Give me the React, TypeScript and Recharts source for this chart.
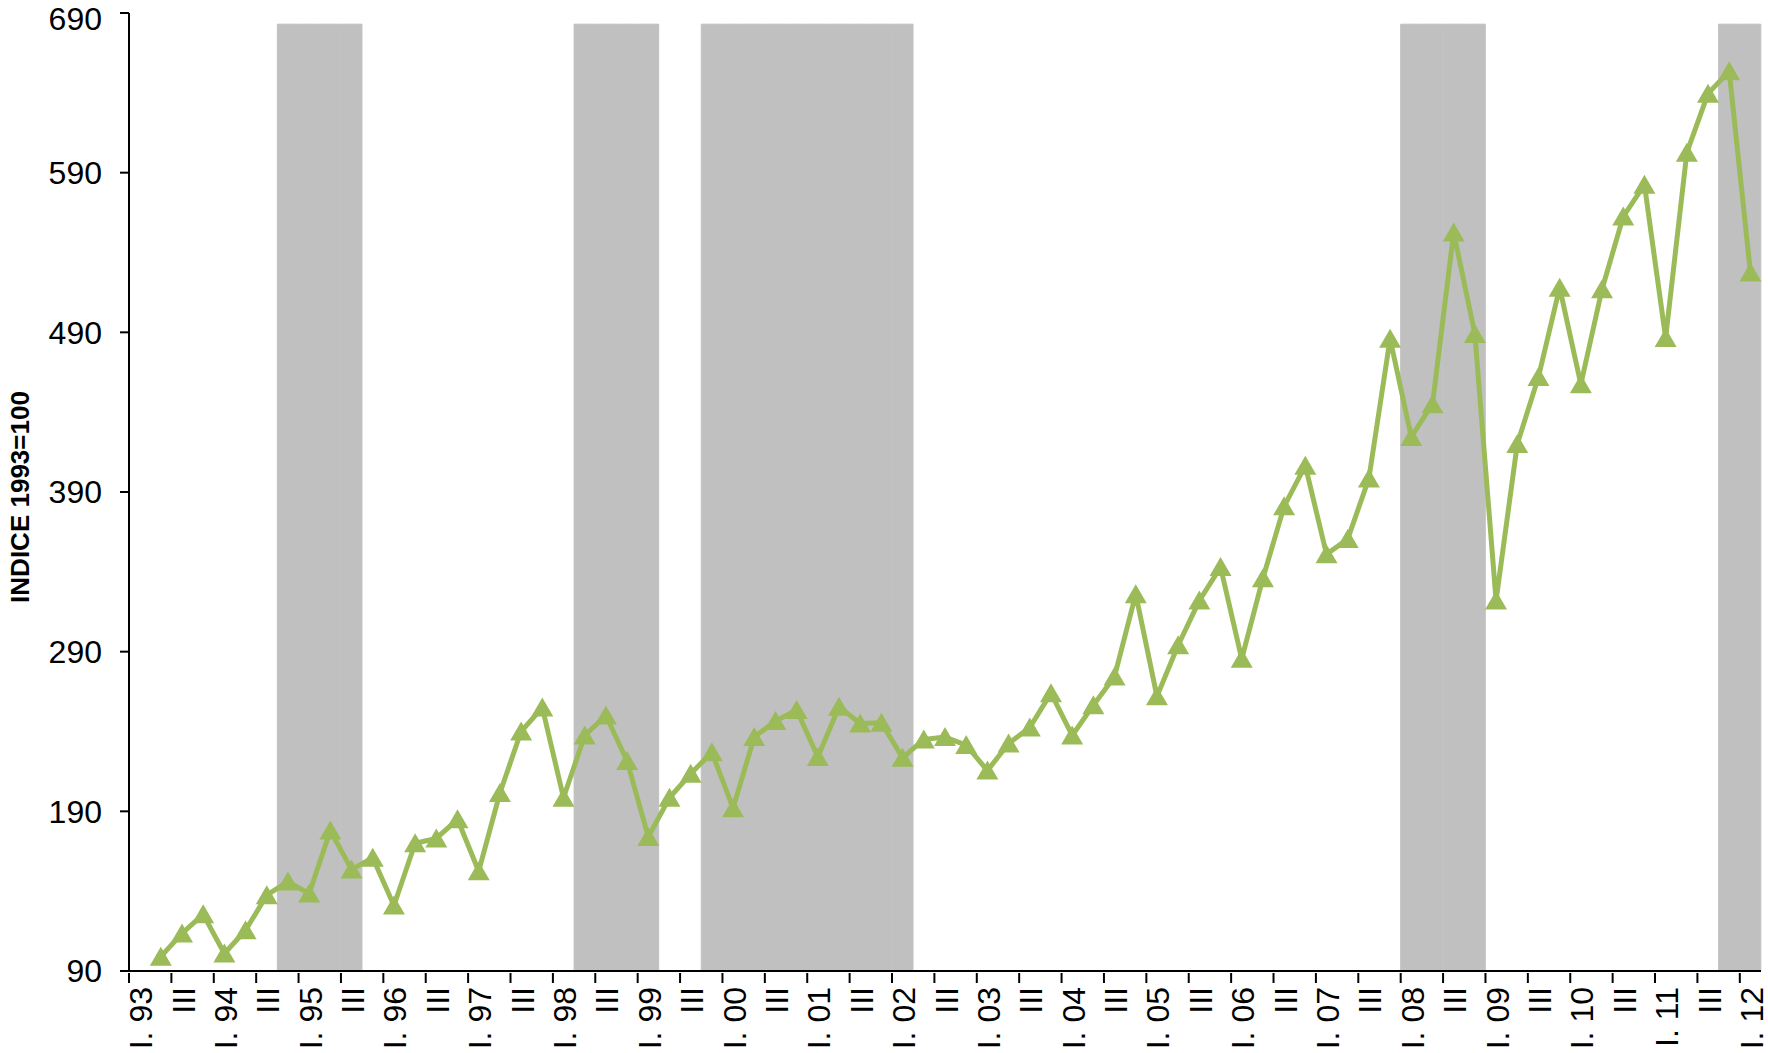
import { ComposedChart, Bar, Line, XAxis, YAxis } from 'recharts';

const YEARS = ['93', '94', '95', '96', '97', '98', '99', '00', '01', '02', '03', '04', '05', '06', '07', '08', '09', '10', '11', '12'];
const QUARTERS = ['I', 'II', 'III', 'IV'];

// quarterly index, 1993=100 (first quarter has no value)
const indexValues: (number | null)[] = [
  null, 99, 113.5, 125.5, 101, 115.5, 137.5, 146, 138.5, 178,
  153.5, 161, 131, 170, 173, 185, 152.5, 201.5, 240, 255,
  198.5, 237.5, 250, 221.5, 174, 198.5, 213.5, 227, 192, 236.5,
  246.5, 253.5, 224, 255.5, 245, 245.5, 223.5, 235, 236.5, 231.5,
  215.5, 232.5, 242.5, 264, 237.5, 256.5, 274.5, 326, 262, 294,
  322, 343, 285.5, 336, 381, 406.5, 351, 360.5, 398.5, 486,
  424.5, 445, 552.5, 489, 322, 420, 462, 518, 457.5, 517,
  562.5, 582.5, 486.5, 602.5, 639.5, 653.5, 527.5,
];

// grey shaded periods (first and last quarter)
const shadedPeriods: [string, string][] = [
  ['IV. 94', 'III. 95'],
  ['II. 98', 'I. 99'],
  ['IV. 99', 'I. 02'],
  ['I. 08', 'IV. 08'],
  ['IV. 11', 'I. 12'],
];
const SHADE_TOP = 683;

const yTicks = [90, 190, 290, 390, 490, 590, 690];

const categories: string[] = [];
YEARS.forEach((yy, yi) =>
  QUARTERS.forEach((q, qi) => {
    if (yi < YEARS.length - 1 || qi === 0) categories.push(`${q}. ${yy}`);
  })
);

const shadedIdx = new Set<number>();
shadedPeriods.forEach(([a, b]) => {
  for (let i = categories.indexOf(a); i <= categories.indexOf(b); i++) shadedIdx.add(i);
});

const data = categories.map((q, i) => ({
  q,
  value: indexValues[i],
  shade: shadedIdx.has(i) ? SHADE_TOP : null,
}));

const W = 1768;
const H = 1053;
const MARGIN = { top: 13, right: 7, bottom: 2, left: 29 };
const Y_AXIS_W = 100;
const X_AXIS_H = 80;
const BAND = (W - MARGIN.left - Y_AXIS_W - MARGIN.right) / categories.length;
const GREEN = '#9BBB59';
const FONT = '"Liberation Sans", Arial, sans-serif';

const XTick = (props: any) => {
  const { x, y, payload } = props;
  const name: string = payload.value;
  const label = name.startsWith('III') ? 'III' : name;
  const tx = x - BAND / 2;
  const ty = y + 14;
  return (
    <g>
      <line x1={tx} y1={y} x2={tx} y2={y + 10} stroke="#000" strokeWidth={2} />
      <text
        x={x + 1}
        y={ty}
        transform={`rotate(-90, ${x + 1}, ${ty})`}
        textAnchor="end"
        dy="0.36em"
        fontSize={32}
        fontFamily={FONT}
        fill="#000"
      >
        {label}
      </text>
    </g>
  );
};

const Triangle = (props: any) => {
  const { cx, cy, index } = props;
  if (cx == null || cy == null || Number.isNaN(cy)) return <g key={index} />;
  return (
    <path
      key={index}
      d={`M${cx},${cy - 10}L${cx + 11},${cy + 9}L${cx - 11},${cy + 9}Z`}
      fill={GREEN}
    />
  );
};

export default function App() {
  return (
    <div style={{ position: 'absolute', left: 0, top: 0, width: W, height: H, background: '#fff' }}>
      <ComposedChart width={W} height={H} data={data} margin={MARGIN} barCategoryGap={0}>
        <XAxis
          dataKey="q"
          interval={1}
          tickSize={0}
          tickLine={false}
          height={X_AXIS_H}
          axisLine={{ stroke: '#000', strokeWidth: 2 }}
          tick={<XTick />}
        />
        <YAxis
          type="number"
          domain={[90, 690]}
          ticks={yTicks}
          width={Y_AXIS_W}
          tickSize={9}
          tickMargin={18}
          axisLine={{ stroke: '#000', strokeWidth: 2 }}
          tickLine={{ stroke: '#000', strokeWidth: 2 }}
          tick={{ fontSize: 32, fill: '#000', fontFamily: FONT }}
        />
        <Bar
          dataKey="shade"
          fill="#C0C0C0"
          stroke="#C0C0C0"
          strokeWidth={1}
          isAnimationActive={false}
        />
        <Line
          type="linear"
          dataKey="value"
          stroke={GREEN}
          strokeWidth={5}
          strokeLinejoin="round"
          dot={<Triangle />}
          activeDot={false}
          isAnimationActive={false}
        />
      </ComposedChart>
      <svg
        width={40}
        height={H}
        style={{ position: 'absolute', left: 0, top: 0, pointerEvents: 'none' }}
      >
        <text
          x={20}
          y={497}
          transform="rotate(-90, 20, 497)"
          textAnchor="middle"
          dominantBaseline="central"
          fontSize={26}
          fontWeight="bold"
          fontFamily={FONT}
          fill="#000"
        >
          INDICE 1993=100
        </text>
      </svg>
    </div>
  );
}
